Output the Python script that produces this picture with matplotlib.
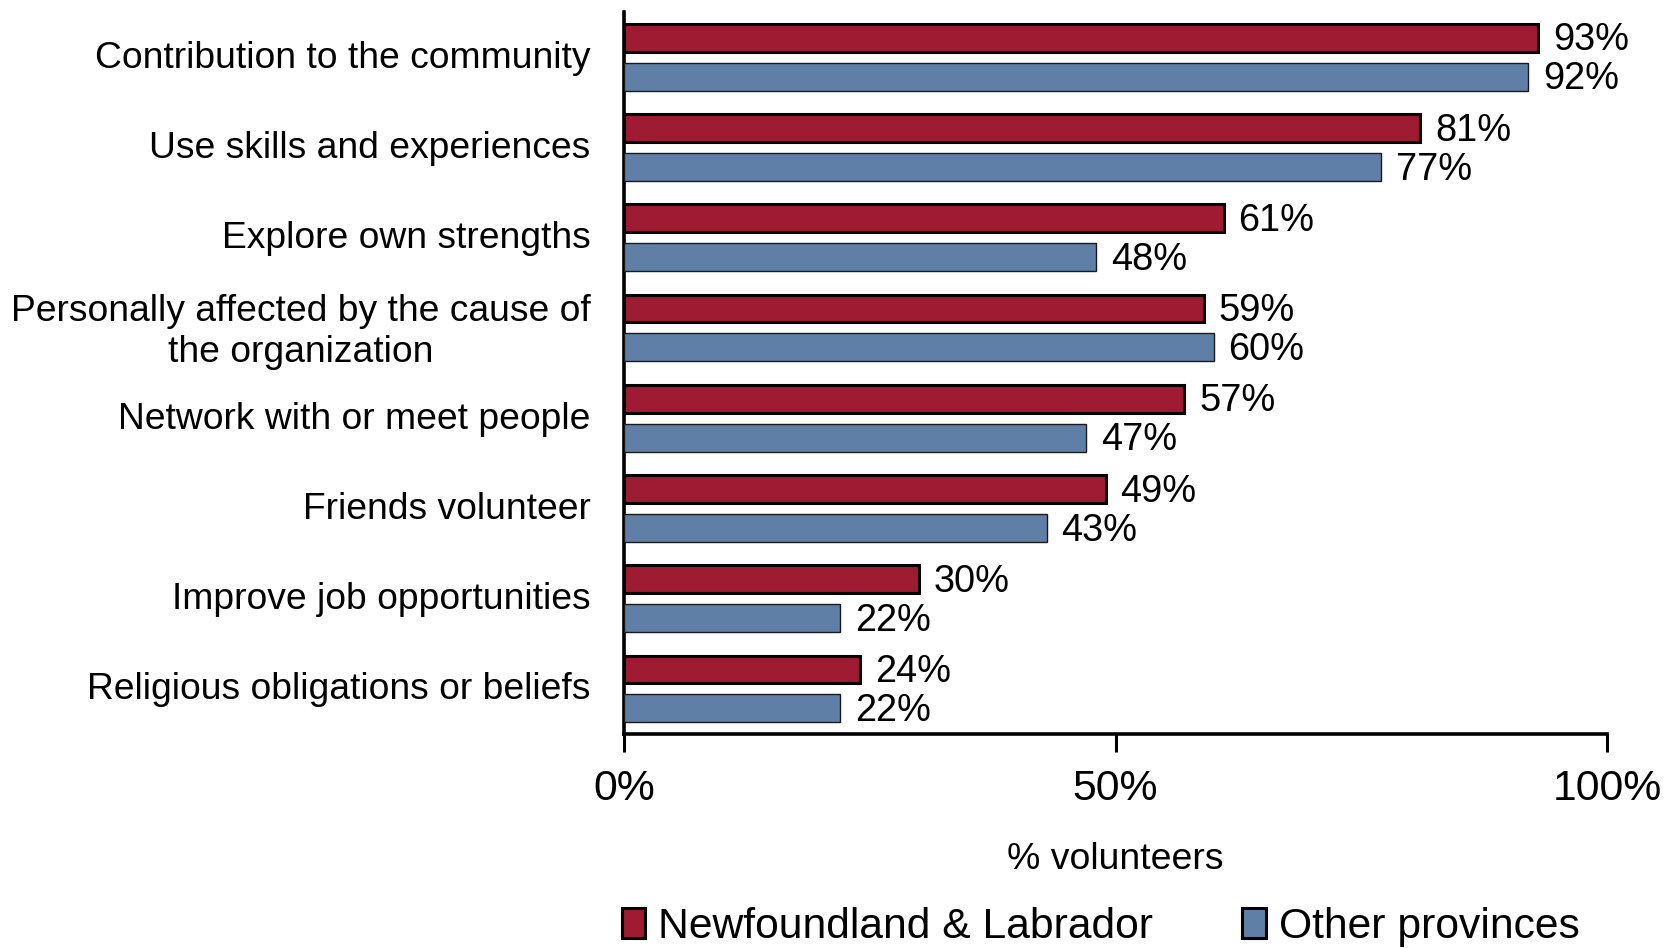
import matplotlib
matplotlib.use("Agg")
import matplotlib.pyplot as plt
import matplotlib.transforms as mtransforms
import numpy as np

plt.rcParams['font.family'] = ['Liberation Sans', 'DejaVu Sans']

categories = [
    "Contribution to the community",
    "Use skills and experiences",
    "Explore own strengths",
    "Personally affected by the cause of\nthe organization",
    "Network with or meet people",
    "Friends volunteer",
    "Improve job opportunities",
    "Religious obligations or beliefs",
]
nl_values = [93, 81, 61, 59, 57, 49, 30, 24]
other_values = [92, 77, 48, 60, 47, 43, 22, 22]
series_names = ["Newfoundland & Labrador", "Other provinces"]
x_ticks = [0, 50, 100]
x_tick_labels = ["0%", "50%", "100%"]

RED = "#9E1B32"
BLUE = "#5F7FA6"

fig = plt.figure(figsize=(16.65, 9.48), dpi=100)
ax = fig.add_axes([0.3748, 0.2257, 0.5904, 0.7616])

n = len(categories)
y = np.arange(n)
offset = 0.215
height = 0.31

ax.barh(y - offset, nl_values, height=height, color=RED,
        edgecolor="black", linewidth=2.2, zorder=3)
ax.barh(y + offset, other_values, height=height, color=BLUE,
        edgecolor="#1a1a1a", linewidth=1.0, zorder=3)

for yi, v in zip(y, nl_values):
    ax.text(v + 1.5, yi - offset + 0.03, f"{v}%", va="center", ha="left",
            fontsize=27.4)
for yi, v in zip(y, other_values):
    ax.text(v + 1.5, yi + offset + 0.03, f"{v}%", va="center", ha="left",
            fontsize=27.4)

ax.set_ylim(n - 0.5, -0.5)
ax.set_xlim(0, 100)
ax.set_yticks(y)
ax.set_yticklabels(categories, fontsize=26.8, multialignment="center",
                   linespacing=1.22)
ax.tick_params(axis="y", length=0, pad=24)
# nudge category labels up slightly
shift = mtransforms.ScaledTranslation(0, 3 / 100, fig.dpi_scale_trans)
for lbl in ax.get_yticklabels():
    lbl.set_transform(lbl.get_transform() + shift)
ax.set_xticks(x_ticks)
ax.set_xticklabels(x_tick_labels, fontsize=30.8)
ax.tick_params(axis="x", direction="out", length=13, width=2.2, pad=12)

for side in ["top", "right"]:
    ax.spines[side].set_visible(False)
for side in ["left", "bottom"]:
    ax.spines[side].set_linewidth(2.6)

ax.set_xlabel("% volunteers", fontsize=26.9, labelpad=24)

handles = [
    plt.Rectangle((0, 0), 1, 1, facecolor=RED, edgecolor="black", linewidth=2.2),
    plt.Rectangle((0, 0), 1, 1, facecolor=BLUE, edgecolor="black", linewidth=2.2),
]
fig.legend(handles, series_names, loc="center", bbox_to_anchor=(0.661, 0.022),
           ncol=2, frameon=False, fontsize=30.7, handlelength=0.55,
           handleheight=0.7, handletextpad=0.3, columnspacing=2.1,
           borderpad=0.1)

fig.savefig("out.png", dpi=100)
